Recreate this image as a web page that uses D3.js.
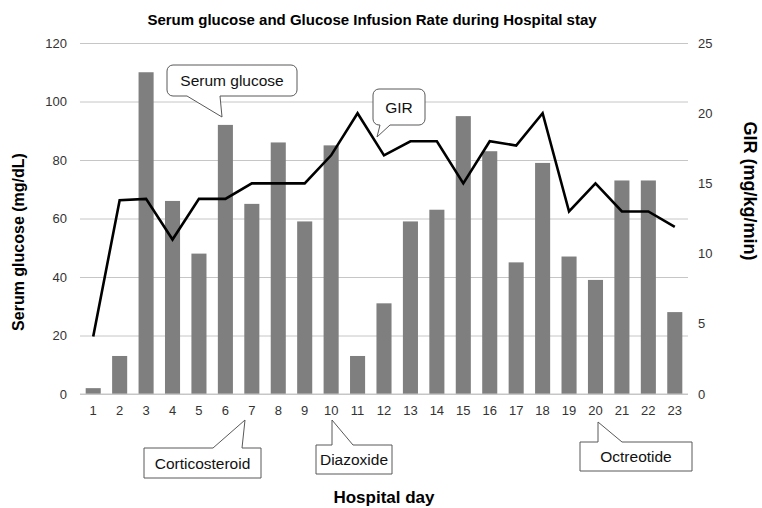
<!DOCTYPE html>
<html lang='en'>
	<head>
		<meta charset='utf-8'>
		<title>Serum glucose and GIR</title>
		<script src="https://cdn.jsdelivr.net/npm/d3@7"></script>
		<style type="text/css">
			body { margin: 0; background: #fff; }
			text { font-family: "Liberation Sans", Arial, sans-serif; }
		</style>
	</head>
	<body>
		<script type='text/javascript'>
			//Data
			var days = [1,2,3,4,5,6,7,8,9,10,11,12,13,14,15,16,17,18,19,20,21,22,23];
			var glucose = [2,13,110,66,48,92,65,86,59,85,13,31,59,63,95,83,45,79,47,39,73,73,28];
			var gir = [4.1,13.8,13.9,11,13.9,13.9,15,15,15,17,20,17,18,18,15,18,17.7,20,13,15,13,13,11.9];
			var leftTicks = [0,20,40,60,80,100,120];
			var rightTicks = [0,5,10,15,20,25];

			//Width and height
			var w = 762;
			var h = 508;
			var plotL = 80, plotR = 688, plotT = 43, plotB = 394;

			var svg = d3.select("body")
						.append("svg")
						.attr("width", w)
						.attr("height", h);

			//Scales
			var x = d3.scaleBand().domain(days).range([plotL, plotR]).paddingInner(0.43).paddingOuter(0.215);
			var y = d3.scaleLinear().domain([0, 120]).range([plotB, plotT]);
			var y2 = d3.scaleLinear().domain([0, 25]).range([plotB, plotT]);

			//Gridlines
			svg.append("g")
			   .attr("transform", "translate(" + plotL + ",0)")
			   .call(d3.axisLeft(y).tickValues(leftTicks).tickSize(-(plotR - plotL)).tickFormat(""))
			   .call(function(g) {
			   	g.select(".domain").remove();
			   	g.selectAll("line").attr("stroke", "#c6c6c6");
			   });

			//Bars
			svg.selectAll("rect.bar")
			   .data(glucose)
			   .enter()
			   .append("rect")
			   .attr("class", "bar")
			   .attr("x", function(d, i) { return x(days[i]); })
			   .attr("width", x.bandwidth())
			   .attr("y", function(d) { return y(d); })
			   .attr("height", function(d) { return plotB - y(d); })
			   .attr("fill", "#7f7f7f");

			//GIR line
			var line = d3.line()
						 .x(function(d, i) { return x(days[i]) + x.bandwidth() / 2; })
						 .y(function(d) { return y2(d); });
			svg.append("path")
			   .datum(gir)
			   .attr("d", line)
			   .attr("fill", "none")
			   .attr("stroke", "#000")
			   .attr("stroke-width", 2.6)
			   .attr("stroke-linejoin", "miter");

			//Axes labels
			var axisLeft = svg.append("g")
							  .attr("transform", "translate(" + plotL + ",0)")
							  .call(d3.axisLeft(y).tickValues(leftTicks).tickSize(0).tickPadding(13));
			var axisRight = svg.append("g")
							   .attr("transform", "translate(" + plotR + ",0)")
							   .call(d3.axisRight(y2).tickValues(rightTicks).tickSize(0).tickPadding(10));
			var axisBottom = svg.append("g")
								.attr("transform", "translate(0," + plotB + ")")
								.call(d3.axisBottom(x).tickSize(0).tickPadding(12));
			[axisLeft, axisRight, axisBottom].forEach(function(g) {
				g.select(".domain").remove();
				g.selectAll("text")
				 .attr("font-family", "Liberation Sans, Arial, sans-serif")
				 .attr("font-size", 13)
				 .attr("fill", "#333");
			});
			axisBottom.append("line")
					  .attr("x1", plotL).attr("x2", plotR)
					  .attr("stroke", "#c6c6c6");

			//Titles
			svg.append("text")
			   .attr("x", 372).attr("y", 25)
			   .attr("text-anchor", "middle")
			   .attr("font-size", 15).attr("font-weight", "bold")
			   .text("Serum glucose and Glucose Infusion Rate during Hospital stay");
			svg.append("text")
			   .attr("transform", "translate(24,242) rotate(-90)")
			   .attr("text-anchor", "middle")
			   .attr("font-size", 16).attr("font-weight", "bold")
			   .text("Serum glucose (mg/dL)");
			svg.append("text")
			   .attr("transform", "translate(744,191) rotate(90)")
			   .attr("text-anchor", "middle")
			   .attr("font-size", 18).attr("font-weight", "bold")
			   .text("GIR (mg/kg/min)");
			svg.append("text")
			   .attr("x", 384).attr("y", 503)
			   .attr("text-anchor", "middle")
			   .attr("font-size", 17).attr("font-weight", "bold")
			   .text("Hospital day");

			//Callouts
			var callouts = [
				{ text: "Serum glucose", box: [167, 65, 297, 96], base: [187, 220], tip: [222, 117], r: 6 },
				{ text: "GIR", box: [373, 89, 425, 125], base: [380, 390], tip: [377, 137], r: 6 },
				{ text: "Corticosteroid", box: [144, 448, 261, 478], base: [213, 242], tip: [245, 420], r: 0 },
				{ text: "Diazoxide", box: [316, 445, 392, 474], base: [332, 353], tip: [332, 420], r: 0 },
				{ text: "Octreotide", box: [580, 442, 692, 471], base: [598, 622], tip: [598, 422], r: 0 }
			];

			function calloutPath(c) {
				var x0 = c.box[0], y0 = c.box[1], x1 = c.box[2], y1 = c.box[3], r = c.r;
				var p = d3.path();
				var up = c.tip[1] < y0;
				p.moveTo(x0 + r, y0);
				if (up) {
					p.lineTo(c.base[0], y0);
					p.lineTo(c.tip[0], c.tip[1]);
					p.lineTo(c.base[1], y0);
				}
				p.lineTo(x1 - r, y0);
				if (r) p.arcTo(x1, y0, x1, y0 + r, r);
				p.lineTo(x1, y1 - r);
				if (r) p.arcTo(x1, y1, x1 - r, y1, r);
				if (!up) {
					p.lineTo(c.base[1], y1);
					p.lineTo(c.tip[0], c.tip[1]);
					p.lineTo(c.base[0], y1);
				}
				p.lineTo(x0 + r, y1);
				if (r) p.arcTo(x0, y1, x0, y1 - r, r);
				p.lineTo(x0, y0 + r);
				if (r) p.arcTo(x0, y0, x0 + r, y0, r);
				p.closePath();
				return p.toString();
			}

			var cg = svg.selectAll("g.callout")
						.data(callouts)
						.enter()
						.append("g")
						.attr("class", "callout");
			cg.append("path")
			  .attr("d", calloutPath)
			  .attr("fill", "#fff")
			  .attr("stroke", "#595959")
			  .attr("stroke-width", 1);
			cg.append("text")
			  .attr("x", function(d) { return (d.box[0] + d.box[2]) / 2; })
			  .attr("y", function(d) { return (d.box[1] + d.box[3]) / 2 + 5.5; })
			  .attr("text-anchor", "middle")
			  .attr("font-size", 15.5)
			  .attr("fill", "#111")
			  .text(function(d) { return d.text; });
		</script>
	</body>
</html>
